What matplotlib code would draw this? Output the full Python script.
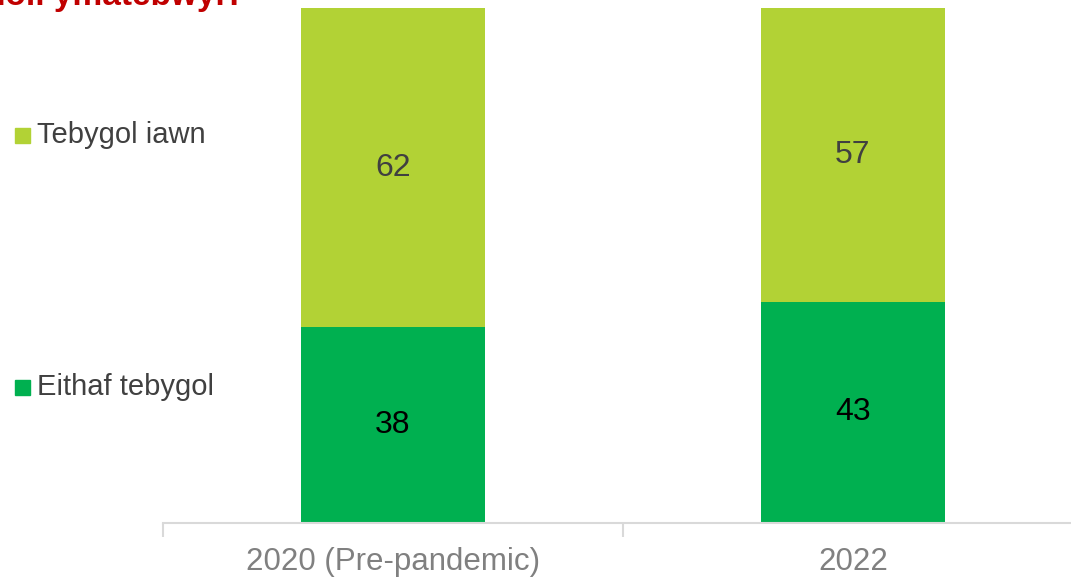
import numpy as np
import matplotlib.pyplot as plt
from matplotlib.patches import Rectangle

plt.rcParams['font.family'] = ['Liberation Sans', 'DejaVu Sans']

categories = ['2020 (Pre-pandemic)', '2022']
series_names = ['Eithaf tebygol', 'Tebygol iawn']
eithaf = [38, 43]
iawn = [62, 57]
colors = ['#00B050', '#B2D235']
label_colors = ['#000000', '#404040']
title = 'holl ymatebwyr:'

W, H = 1071, 580
fig = plt.figure(figsize=(W / 100, H / 100), dpi=100)
ax = fig.add_axes([163 / W, 1 - 523 / H, 920 / W, (523 - 8) / H])

x = np.arange(len(categories))
b1 = ax.bar(x, eithaf, width=0.4, color=colors[0])
b2 = ax.bar(x, iawn, width=0.4, bottom=eithaf, color=colors[1])
for bars, vals, bottoms, c in [(b1, eithaf, [0, 0], label_colors[0]),
                               (b2, iawn, eithaf, label_colors[1])]:
    for xi, v, b in zip(x, vals, bottoms):
        ax.text(xi, b + v / 2, str(v), ha='center', va='center', fontsize=23, color=c)

ax.set_xlim(-0.5, 1.5)
ax.set_ylim(0, 100)
ax.set_yticks([])
for s in ['top', 'right', 'left']:
    ax.spines[s].set_visible(False)
ax.spines['bottom'].set_color('#D9D9D9')
ax.spines['bottom'].set_linewidth(1.5)
ax.set_xticks([-0.5, 0.5, 1.5])
ax.set_xticklabels([])
ax.set_xticks(x, minor=True)
ax.set_xticklabels(categories, minor=True, fontsize=22.5, color='#808080')
ax.tick_params(axis='x', which='major', length=10, width=1.5, color='#D9D9D9')
ax.tick_params(axis='x', which='minor', length=0, pad=17)

# legend
for name, c, ypix in [(series_names[1], colors[1], 135), (series_names[0], colors[0], 387)]:
    fig.patches.append(Rectangle((15 / W, 1 - (ypix + 7.5) / H), 15 / W, 15 / H,
                                 transform=fig.transFigure, color=c))
    fig.text(37 / W, 1 - ypix / H, name, ha='left', va='center', fontsize=21, color='#404040')

fig.text(240 / W, 1 - 5 / H, title, ha='right', va='baseline', fontsize=24,
         fontweight='bold', color='#C00000')

fig.savefig('out.png', dpi=100)
